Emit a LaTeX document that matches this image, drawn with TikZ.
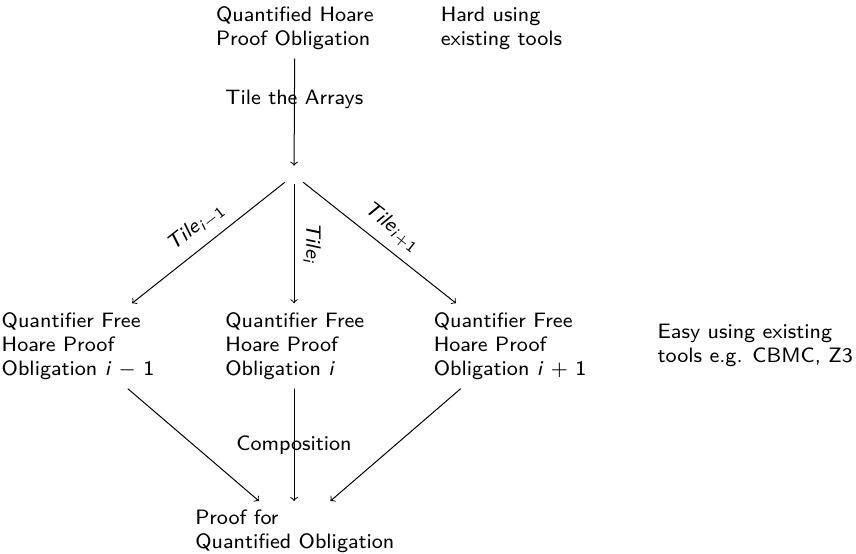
\documentclass[tikz,border=0pt]{standalone}
\begin{document}
\begin{tikzpicture}[line join=round, line cap=round,>=to,line width=0.5pt]
	\tikzset{every node/.style={align=left,scale=1.3,font=\fontsize{8}{9.2}\selectfont\sffamily}}
	\def \w{15.04}	\def \h{9.718}
	\useasboundingbox (0,0) rectangle (\w,\h);
	\node (top) at (5.18,9.226) {Quantified Hoare\\Proof Obligation};
	\node (hard) at (8.81,9.226) {Hard using\\existing tools};
	\node (mid) at (5.166,6.643) {};
	\node (qf1) at (1.371,3.638) {Quantifier Free\\Hoare Proof\\Obligation \textit{i} $-$ 1};
	\node (qf2) at (5.18,3.638) {Quantifier Free\\Hoare Proof\\Obligation \textit{i}};
	\node (qf3) at (8.962,3.638) {Quantifier Free\\Hoare Proof\\Obligation \textit{i} $+$ 1};
	\node (easy) at (13.27,3.655) {Easy using existing\\tools e.g. CBMC, Z3};
	\node (proof) at (5.18,0.375) {Proof for\\Quantified Obligation};
	\draw[->] (top) -- (mid) node[pos=0.38] {Tile the Arrays};
	\draw[->] (mid) -- (qf1) node[midway,sloped,above] {\textit{Tile}\textsubscript{\textit{i}$-$1}};
	\draw[->] (mid) -- (mid |- qf2.north) node[midway,sloped,above] {\textit{Tile}\textsubscript{\textit{i}}};
	\draw[->] (mid) -- (qf3) node[midway,sloped,above] {\textit{Tile}\textsubscript{\textit{i}$+$1}};
	\foreach \n in {qf1,qf3}
	\draw[->] (\n) -- (proof);
	\draw[->] (mid |- qf2.south) -- (mid |- proof.north) node[midway] {Composition};
\end{tikzpicture}
\end{document}
